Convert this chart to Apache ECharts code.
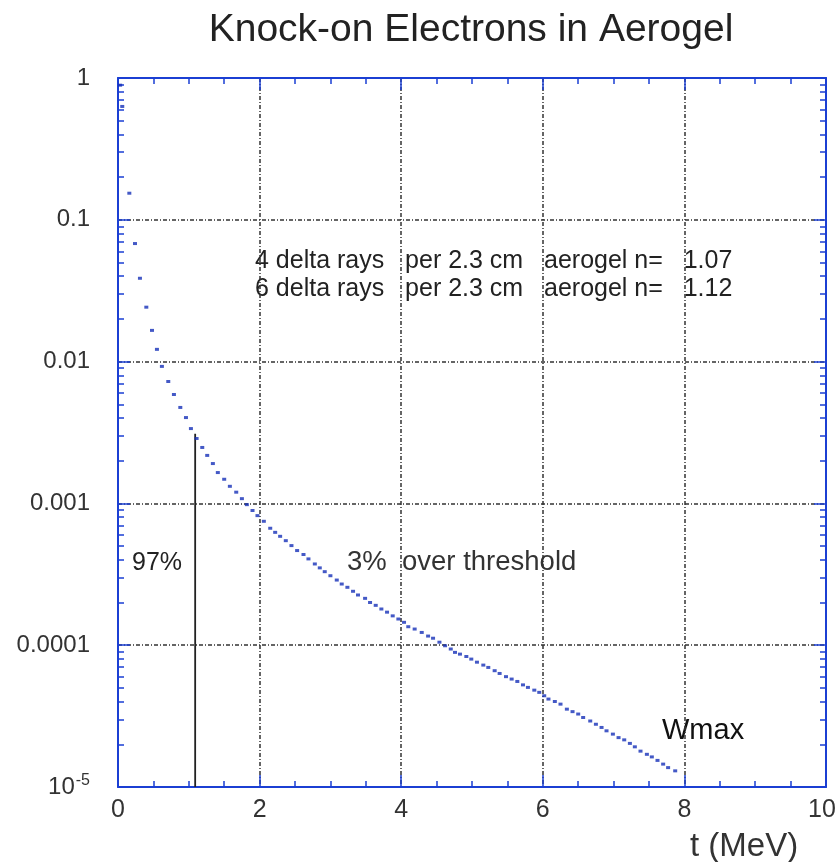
<!DOCTYPE html>
<html>
<head>
<meta charset="utf-8">
<script src="https://cdn.jsdelivr.net/npm/echarts@6/dist/echarts.min.js"></script>
<style>
html,body{margin:0;padding:0;background:#fff;}
#chart{width:837px;height:862px;}
</style>
</head>
<body>
<div id="chart"></div>
<script>
// ---- data ----
const tValues = [0.03,0.06,0.16,0.24,0.31,0.40,0.48,0.55,0.62,0.71,0.79,0.88,0.96,1.03,1.11,1.19,1.26,1.34,1.41,1.50,1.58,1.67,1.75,1.82,
  1.90,1.97,2.06,2.15,2.22,2.29,2.37,2.45,2.53,2.62,2.69,2.78,2.85,2.92,3.00,3.09,3.16,3.24,3.32,3.39,3.49,3.56,3.64,3.72,3.80,3.88,3.96,
  4.04,4.10,4.19,4.29,4.38,4.45,4.54,4.62,4.70,4.76,4.83,4.92,4.99,5.07,5.16,5.23,5.32,5.39,5.48,5.56,5.64,5.72,5.79,5.88,5.95,
  6.02,6.08,6.17,6.25,6.34,6.42,6.50,6.57,6.67,6.75,6.83,6.90,6.99,7.07,7.15,7.23,7.30,7.38,7.47,7.54,7.62,7.70,7.77,7.87];
const fracValues = [0.89,0.63,0.154,0.068,0.0387,0.0242,0.0166,0.0122,0.00925,0.00724,0.00586,0.00475,0.00403,0.00337,0.00287,0.00248,0.00218,0.00191,0.00165,0.00148,0.00132,0.00120,0.00108,0.00098,
  0.000891,0.00082,0.000748,0.000668,0.000625,0.000586,0.000546,0.000504,0.000465,0.000436,0.000406,0.000374,0.000351,0.00033,0.000309,0.000288,0.00027,0.000256,0.00024,0.000226,0.000214,0.0002,0.000191,0.00018,0.000171,0.000161,0.000153,
  0.000145,0.000135,0.00013,0.000123,0.000116,0.000112,0.000105,9.91e-5,9.4e-5,8.9e-5,8.65e-5,8.32e-5,7.98e-5,7.59e-5,7.24e-5,6.97e-5,6.61e-5,6.32e-5,6.0e-5,5.77e-5,5.55e-5,5.25e-5,5.04e-5,4.82e-5,4.65e-5,
  4.4e-5,4.17e-5,4.01e-5,3.84e-5,3.54e-5,3.4e-5,3.27e-5,3.09e-5,2.92e-5,2.77e-5,2.63e-5,2.49e-5,2.36e-5,2.23e-5,2.15e-5,2.03e-5,1.92e-5,1.79e-5,1.70e-5,1.63e-5,1.54e-5,1.45e-5,1.37e-5,1.30e-5];
const thresholdX = [1.09, 1.09];
const thresholdY = [1e-5, 0.0031];
const yTickLabels = {'1':'1','0.1':'0.1','0.01':'0.01','0.001':'0.001','0.0001':'0.0001','0.00001':'10{sup|-5}'};
const xTickValues = [0,2,4,6,8,10];
const yMinorTicks = [];
[1e-5,1e-4,1e-3,1e-2,1e-1].forEach(d => { for (let k = 2; k <= 9; k++) yMinorTicks.push(+(k*d).toPrecision(3)); });

const titleText = 'Knock-on Electrons in Aerogel';
const xAxisName = 't (MeV)';
const note1 = '4 delta rays   per 2.3 cm   aerogel n=   1.07';
const note2 = '6 delta rays   per 2.3 cm   aerogel n=   1.12';
const noteBelow = '97%';
const noteAbove = '3%  over threshold';
const noteWmax = 'Wmax';

// ---- chart ----
const BLUE = '#1b3fd3';
const MARK = '#1530b8';
const FONT = '"Liberation Sans", Arial, Helvetica, sans-serif';
const gridLine = {show:true, lineStyle:{color:'#333', width:1.5, type:[4,2,1,2]}};

function yLabel(v){
  const key = String(+v.toPrecision(3));
  const map = {'1':'1','0.1':'0.1','0.01':'0.01','0.001':'0.001','0.0001':'0.0001','0.00001':'0.00001','1e-5':'0.00001'};
  const k = map[key] || key;
  return yTickLabels[k] !== undefined ? yTickLabels[k] : '';
}
function xLabel(v){
  if (xTickValues.indexOf(v) < 0) return '';
  return v === xTickValues[xTickValues.length-1] ? '{last|' + v + '}' : String(v);
}

const pts = tValues.map((t,i) => [t, fracValues[i]]);
const thr = thresholdX.map((t,i) => [t, thresholdY[i]]);

const baseY = {type:'log', logBase:10, min:1e-5, max:1, splitNumber:5, gridIndex:0};
const baseX = {type:'value', min:0, max:10, interval:2, gridIndex:0};

const chart = echarts.init(document.getElementById('chart'), null, {renderer:'canvas'});
chart.setOption({
  animation:false,
  backgroundColor:'#fff',
  grid:{left:118, top:78, right:11, bottom:75, containLabel:false, outerBoundsMode:'none'},
  xAxis:[
    Object.assign({}, baseX, {position:'bottom',
      axisLine:{show:true, lineStyle:{color:BLUE, width:2}},
      axisTick:{show:true, inside:true, length:12, lineStyle:{color:BLUE, width:1.5}},
      minorTick:{show:true, splitNumber:4, length:6, lineStyle:{color:BLUE, width:1.5}},
      axisLabel:{show:true, margin:11, color:'#333', fontSize:25, fontFamily:FONT, formatter:xLabel,
        rich:{last:{fontSize:25, color:'#333', fontFamily:FONT, padding:[0,8,0,0]}}},
      splitLine:gridLine}),
    Object.assign({}, baseX, {position:'top',
      axisLine:{show:true, lineStyle:{color:BLUE, width:2}},
      axisTick:{show:true, inside:true, length:12, lineStyle:{color:BLUE, width:1.5}},
      minorTick:{show:true, splitNumber:4, length:6, lineStyle:{color:BLUE, width:1.5}},
      axisLabel:{show:false}, splitLine:{show:false}})
  ],
  yAxis:[
    Object.assign({}, baseY, {position:'left',
      axisLine:{show:true, lineStyle:{color:BLUE, width:2}},
      axisTick:{show:true, inside:true, length:12, lineStyle:{color:BLUE, width:1.5}},
      axisLabel:{show:true, margin:28, color:'#333', fontSize:24, fontFamily:FONT, formatter:yLabel,
        rich:{sup:{fontSize:16, color:'#333', fontFamily:FONT, verticalAlign:'top', padding:[0,0,12,1]}}},
      splitLine:gridLine}),
    Object.assign({}, baseY, {position:'left',
      axisLine:{show:false},
      axisTick:{show:true, inside:true, length:6, customValues:yMinorTicks, lineStyle:{color:BLUE, width:1.5}},
      axisLabel:{show:false}, splitLine:{show:false}}),
    Object.assign({}, baseY, {position:'right',
      axisLine:{show:true, lineStyle:{color:BLUE, width:2}},
      axisTick:{show:true, inside:true, length:12, lineStyle:{color:BLUE, width:1.5}},
      axisLabel:{show:false}, splitLine:{show:false}}),
    Object.assign({}, baseY, {position:'right',
      axisLine:{show:false},
      axisTick:{show:true, inside:true, length:6, customValues:yMinorTicks, lineStyle:{color:BLUE, width:1.5}},
      axisLabel:{show:false}, splitLine:{show:false}})
  ],
  series:[
    {type:'line', xAxisIndex:0, yAxisIndex:0, data:thr, symbol:'none',
      lineStyle:{color:'#222', width:1.8}, z:3, silent:true},
    {type:'scatter', xAxisIndex:0, yAxisIndex:0, data:pts, symbol:'rect', symbolSize:[4,3],
      itemStyle:{color:MARK}, z:4, silent:true}
  ],
  graphic:[
    {type:'text', x:471, y:30, style:{text:titleText, fontSize:39, fontFamily:FONT, fill:'#222', align:'center', verticalAlign:'middle'}},
    {type:'text', x:255, y:261, style:{text:note1, fontSize:25, fontFamily:FONT, fill:'#222', align:'left', verticalAlign:'middle'}},
    {type:'text', x:255, y:289, style:{text:note2, fontSize:25, fontFamily:FONT, fill:'#222', align:'left', verticalAlign:'middle'}},
    {type:'text', x:132, y:563, style:{text:noteBelow, fontSize:25, fontFamily:FONT, fill:'#222', align:'left', verticalAlign:'middle'}},
    {type:'text', x:347, y:562, style:{text:noteAbove, fontSize:27.5, fontFamily:FONT, fill:'#333', align:'left', verticalAlign:'middle'}},
    {type:'text', x:662, y:731, style:{text:noteWmax, fontSize:29, fontFamily:FONT, fill:'#111', align:'left', verticalAlign:'middle'}},
    {type:'text', x:690, y:847, style:{text:xAxisName, fontSize:33, fontFamily:FONT, fill:'#333', align:'left', verticalAlign:'middle'}}
  ]
});
</script>
</body>
</html>
